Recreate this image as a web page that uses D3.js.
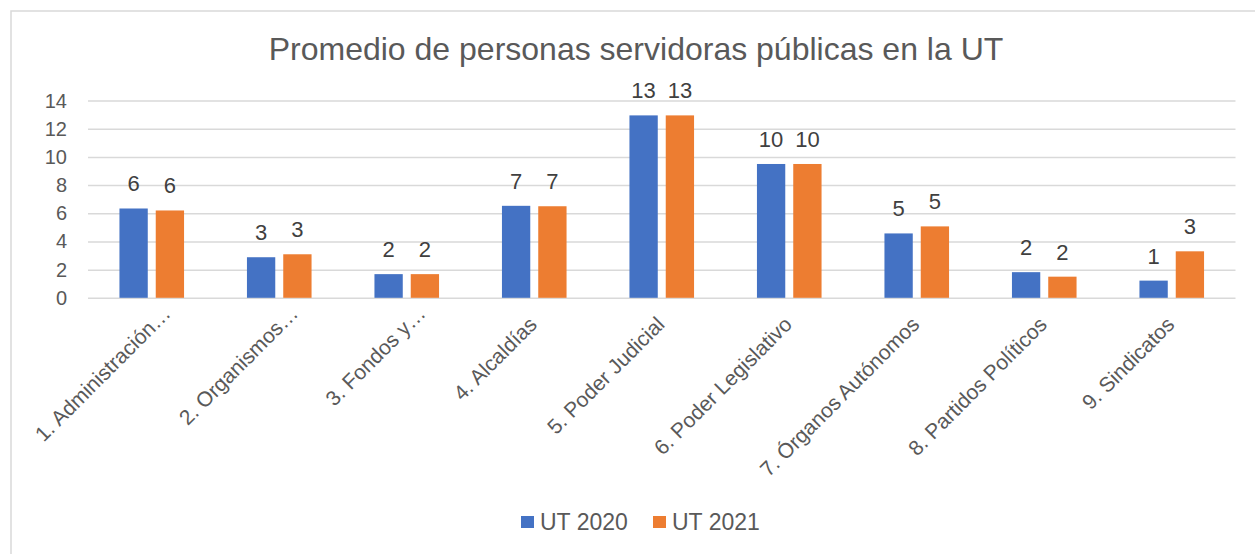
<!DOCTYPE html>
<html>
<head>
<meta charset="utf-8">
<script src="https://cdn.jsdelivr.net/npm/d3@7"></script>
<style>
	body { margin: 0; background: #fff; }
	svg { display: block; font-family: "Liberation Sans", Arial, sans-serif; }
</style>
</head>
<body>
<div id="chart"></div>
<script>
// Chart data
var categories = ['1. Administración…', '2. Organismos…', '3. Fondos y…', '4. Alcaldías', '5. Poder Judicial',
	'6. Poder Legislativo', '7. Órganos Autónomos', '8. Partidos Políticos', '9. Sindicatos'];
var seriesNames = ['UT 2020', 'UT 2021'];
var ut2020 = [6.34, 2.88, 1.68, 6.53, 12.95, 9.5, 4.57, 1.82, 1.22];
var ut2021 = [6.2, 3.09, 1.68, 6.5, 12.95, 9.5, 5.07, 1.5, 3.3];
var yTicks = [0, 2, 4, 6, 8, 10, 12, 14];
var title = 'Promedio de personas servidoras públicas en la UT';

var colors = ['#4472C4', '#ED7D31'];
var width = 1255, height = 554;
// plot box (window.top is reserved, so no plain "top")
var plotL = 88, plotR = 1235.5, plotT = 100.6, plotB = 297.8;

var svg = d3.select('#chart')
	.append('svg')
	.attr('width', width)
	.attr('height', height);

// outer frame (only left and top edges are inside the picture)
svg.append('path')
	.attr('d', 'M11,' + height + 'V11H' + width)
	.attr('fill', 'none')
	.attr('stroke', '#d9d9d9')
	.attr('stroke-width', 1.5);

var x0 = d3.scaleBand().domain(categories).range([plotL, plotR]);
var step = x0.step();
var x1 = d3.scaleBand().domain(seriesNames)
	.range([step / 2 - 32.3, step / 2 + 32.3])
	.paddingInner(0.22);
var y = d3.scaleLinear().domain([0, 14]).range([plotB, plotT]);

// title
svg.append('text')
	.attr('x', 636)
	.attr('y', 60)
	.attr('text-anchor', 'middle')
	.attr('font-size', 32)
	.attr('fill', '#595959')
	.text(title);

// gridlines + y labels
var yAxis = d3.axisLeft(y)
	.tickValues(yTicks)
	.tickSize(-(plotR - plotL))
	.tickPadding(21);
var gy = svg.append('g')
	.attr('transform', 'translate(' + plotL + ',0)')
	.call(yAxis);
gy.select('.domain').remove();
gy.selectAll('.tick line')
	.attr('stroke', '#d9d9d9')
	.attr('stroke-width', 1.5);
gy.selectAll('.tick text')
	.attr('font-family', '"Liberation Sans", Arial, sans-serif')
	.attr('font-size', 20)
	.attr('fill', '#595959');

// bars
var rows = categories.map(function(c, i) {
	return {cat: c, vals: [{s: seriesNames[0], v: ut2020[i]}, {s: seriesNames[1], v: ut2021[i]}]};
});

var groups = svg.selectAll('g.cat')
	.data(rows)
	.enter()
	.append('g')
	.attr('class', 'cat')
	.attr('transform', function(d) { return 'translate(' + x0(d.cat) + ',0)'; });

groups.selectAll('rect')
	.data(function(d) { return d.vals; })
	.enter()
	.append('rect')
	.attr('x', function(d) { return x1(d.s); })
	.attr('y', function(d) { return y(d.v); })
	.attr('width', x1.bandwidth())
	.attr('height', function(d) { return y(0) - y(d.v); })
	.attr('fill', function(d, i) { return colors[i]; });

groups.selectAll('text.val')
	.data(function(d) { return d.vals; })
	.enter()
	.append('text')
	.attr('class', 'val')
	.attr('x', function(d) { return x1(d.s) + x1.bandwidth() / 2; })
	.attr('y', function(d) { return y(d.v) - 17; })
	.attr('text-anchor', 'middle')
	.attr('font-size', 22)
	.attr('fill', '#404040')
	.text(function(d) { return Math.round(d.v); });

// category labels, rotated
svg.selectAll('text.catlab')
	.data(categories)
	.enter()
	.append('text')
	.attr('class', 'catlab')
	.attr('transform', function(d) {
		var cx = x0(d) + step / 2 + 4, cy = plotB + 28;
		// truncated labels sit a bit further along
		if (d.slice(-1) == '…') { cx += 16; cy -= 11; }
		return 'translate(' + cx + ',' + cy + ') rotate(-45)';
	})
	.attr('text-anchor', 'end')
	.attr('font-size', 21)
	.attr('fill', '#595959')
	.text(function(d) { return d; });

// legend
var legendX = [521, 653];
var lg = svg.selectAll('g.legend')
	.data(seriesNames)
	.enter()
	.append('g')
	.attr('class', 'legend')
	.attr('transform', function(d, i) { return 'translate(' + legendX[i] + ',516)'; });
lg.append('rect')
	.attr('width', 13)
	.attr('height', 12)
	.attr('fill', function(d, i) { return colors[i]; });
lg.append('text')
	.attr('x', 19)
	.attr('y', 14)
	.attr('font-size', 23)
	.attr('fill', '#595959')
	.text(function(d) { return d; });
</script>
</body>
</html>
